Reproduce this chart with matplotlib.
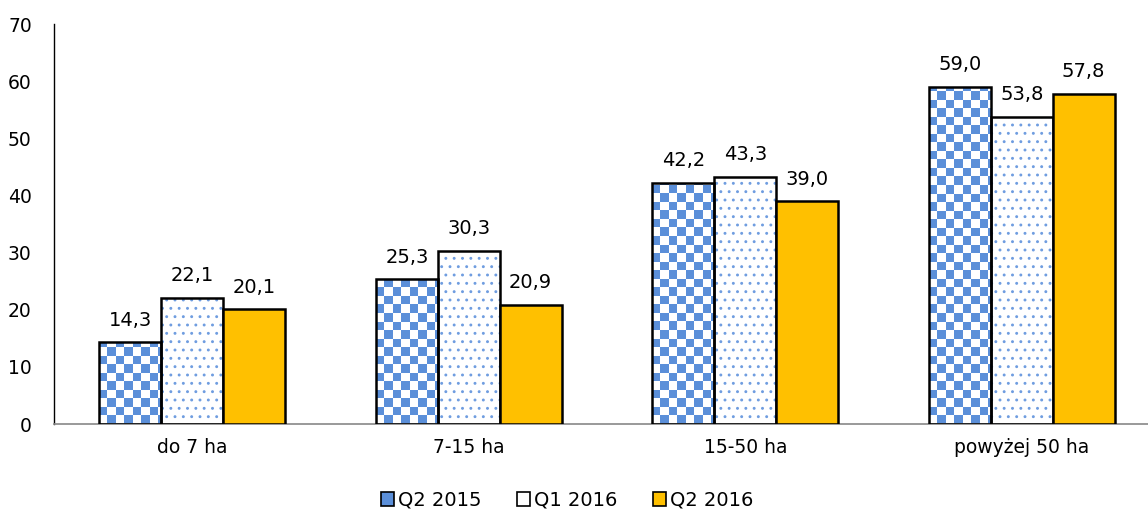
import matplotlib.pyplot as plt
import numpy as np
from matplotlib.patches import Patch

categories = ["do 7 ha", "7-15 ha", "15-50 ha", "powyżej 50 ha"]
series_names = ["Q2 2015", "Q1 2016", "Q2 2016"]
q2_2015 = [14.3, 25.3, 42.2, 59.0]
q1_2016 = [22.1, 30.3, 43.3, 53.8]
q2_2016 = [20.1, 20.9, 39.0, 57.8]

BLUE = "#5B8FD9"
GOLD = "#FFC000"

plt.rcParams["font.family"] = ["DejaVu Sans"]
plt.rcParams["font.size"] = 13.5

fig = plt.figure(figsize=(11.48, 5.13), dpi=100)
ax = fig.add_axes([54 / 1148, 1 - 424 / 513, 1094 / 1148, 400 / 513])

x = np.arange(len(categories))
width = 0.224
offsets = [-width, 0, width]

# checkerboard bars: a blue/white tile image clipped to each bar
sq_x, sq_y = 0.0307, 1.49
checker_cmap = plt.matplotlib.colors.ListedColormap(["white", BLUE])
for xi, v in zip(x + offsets[0], q2_2015):
    left = xi - width / 2
    nx = int(np.ceil(width / sq_x))
    ny = int(np.ceil(v / sq_y))
    tiles = (np.add.outer(np.arange(ny), np.arange(nx)) % 2)[::-1]
    bar = ax.bar(xi, v, width, facecolor="none", edgecolor="black", linewidth=1.8, zorder=3)[0]
    im = ax.imshow(tiles, cmap=checker_cmap, interpolation="nearest", aspect="auto",
                   extent=[left, left + nx * sq_x, 0, ny * sq_y], origin="upper", zorder=2)
    im.set_clip_path(bar)

# dotted bars
plt.rcParams["hatch.linewidth"] = 0.9
ax.bar(x + offsets[1], q1_2016, width, facecolor="white", edgecolor="#6F9DE0", hatch="..",
       linewidth=0, zorder=2)
ax.bar(x + offsets[1], q1_2016, width, facecolor="none", edgecolor="black", linewidth=1.8, zorder=3)

# solid bars
ax.bar(x + offsets[2], q2_2016, width, facecolor=GOLD, edgecolor="black", linewidth=1.8, zorder=3)

for off, vals in zip(offsets, [q2_2015, q1_2016, q2_2016]):
    for xi, v in zip(x + off, vals):
        ax.annotate(f"{v:.1f}".replace(".", ","), (xi, v), xytext=(0, 9),
                    textcoords="offset points", ha="center", va="bottom", fontsize=14)

ax.set_xlim(-0.5, -0.5 + 1094 / 276.5)
ax.set_ylim(0, 70)
ax.set_yticks(range(0, 71, 10))
ax.set_xticks(x)
ax.set_xticklabels(categories)
ax.tick_params(axis="both", length=0)
ax.tick_params(axis="y", pad=16)
ax.tick_params(axis="x", pad=10)
for side in ["top", "right"]:
    ax.spines[side].set_visible(False)
ax.spines["left"].set_color("black")
ax.spines["left"].set_linewidth(1.0)
ax.spines["bottom"].set_color("#888888")
ax.spines["bottom"].set_linewidth(1.2)

handles = [
    Patch(facecolor=BLUE, edgecolor="black", linewidth=1.2),
    Patch(facecolor="white", edgecolor="black", linewidth=1.2),
    Patch(facecolor=GOLD, edgecolor="black", linewidth=1.2),
]
fig.legend(handles, series_names, loc="center", bbox_to_anchor=(567 / 1148, 1 - 500 / 513),
           ncol=3, frameon=False, handlelength=0.7, handleheight=0.7, handletextpad=0.2,
           columnspacing=1.8, fontsize=14)

fig.savefig("out.png", dpi=100)
